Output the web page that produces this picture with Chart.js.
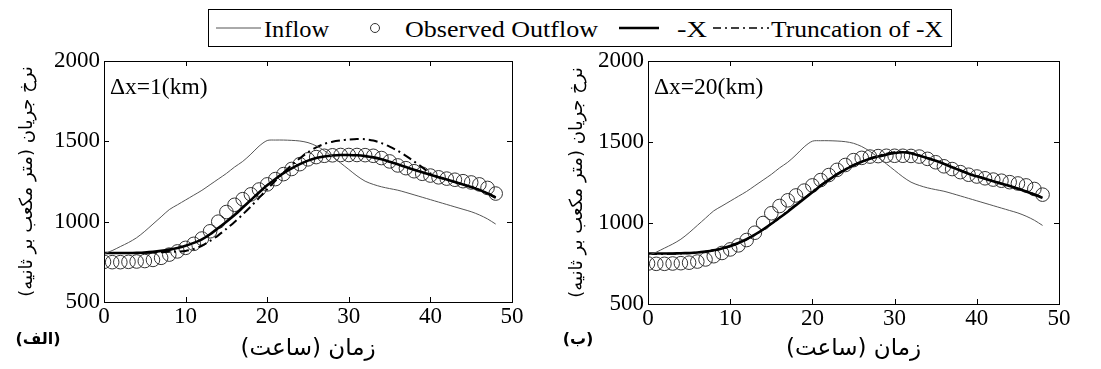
<!DOCTYPE html>
<html>
<head>
<meta charset="utf-8">
<script src="https://cdn.jsdelivr.net/npm/chart.js@4.4.1/dist/chart.umd.min.js"></script>
<style>
  body { margin: 0; background: #fff; }
  #wrap { position: relative; width: 1101px; height: 369px; overflow: hidden; }
  #left { position: absolute; left: 0; top: 0; }
  #right { position: absolute; left: 550px; top: 0; }
  #legend { position: absolute; left: 208px; top: 9px; }
  #legend text { font-family: "Liberation Serif", "Times New Roman", serif; font-size: 24px; fill: #000; }
</style>
</head>
<body>
<div id="wrap">
  <canvas id="left" width="550" height="369"></canvas>
  <canvas id="right" width="551" height="369"></canvas>
  <svg id="legend" width="745" height="39">
    <rect x="0.5" y="0.5" width="743" height="37" fill="#fff" stroke="#000" stroke-width="1"/>
    <line x1="8" y1="19" x2="53" y2="19" stroke="#555" stroke-width="1"/>
    <text x="56" y="28" textLength="65" lengthAdjust="spacingAndGlyphs">Inflow</text>
    <circle cx="167" cy="19" r="4.5" fill="none" stroke="#333" stroke-width="1"/>
    <text x="197" y="28" textLength="193" lengthAdjust="spacingAndGlyphs">Observed Outflow</text>
    <line x1="411" y1="19" x2="451" y2="19" stroke="#000" stroke-width="2.5"/>
    <text x="469" y="28" textLength="30" lengthAdjust="spacingAndGlyphs">-X</text>
    <line x1="505" y1="19" x2="561" y2="19" stroke="#000" stroke-width="1.5" stroke-dasharray="8,4,2,4"/>
    <text x="563" y="28" textLength="172" lengthAdjust="spacingAndGlyphs">Truncation of -X</text>
  </svg>
</div>
<script>
let hours = [0,1,2,3,4,5,6,7,8,9,10,11,12,13,14,15,16,17,18,19,20,21,22,23,24,
  25,26,27,28,29,30,31,32,33,34,35,36,37,38,39,40,41,42,43,44,45,46,47,48];

let inflow = [800,820,845,870,900,940,985,1030,1075,1105,1135,1165,1195,1230,1265,1300,1340,1375,1420,1470,
  1505,1508,1508,1506,1502,1492,1472,1442,1405,1365,1325,1285,1252,1232,1217,1206,1196,1182,1167,1152,
  1137,1122,1107,1092,1077,1062,1042,1017,985];

let observed = [750,748,748,750,752,755,762,775,795,815,837,862,895,940,1000,1060,1105,1140,1170,1200,
  1232,1265,1296,1328,1358,1388,1402,1410,1413,1415,1415,1415,1414,1410,1396,1375,1350,1333,1314,1298,
  1287,1276,1268,1261,1252,1244,1232,1210,1175];

// dx = 1 km
let minusX1 = [805,805,805,805,806,808,812,818,826,836,850,868,890,922,960,1000,1042,1088,1135,1182,
  1226,1266,1302,1332,1358,1380,1396,1406,1412,1415,1415,1413,1408,1400,1388,1373,1357,1340,1323,1307,
  1292,1277,1262,1247,1232,1216,1198,1176,1150];
let trunc1 = [805,805,805,805,805,806,808,810,812,814,818,830,850,880,915,955,998,1045,1095,1148,
  1202,1255,1305,1352,1395,1432,1462,1484,1498,1506,1511,1514,1513,1505,1489,1467,1441,1410,1375,1338,
  1300,1277,1262,1247,1232,1216,1198,1176,1150];

// dx = 20 km
let minusX20 = [812,812,812,812,813,815,818,824,832,843,858,877,900,928,960,995,1032,1070,1110,1150,
  1190,1230,1266,1300,1330,1356,1378,1396,1410,1422,1432,1437,1430,1416,1400,1384,1365,1344,1324,1304,
  1288,1273,1258,1243,1228,1212,1195,1176,1155];
let trunc20 = [808,808,809,810,812,814,818,823,831,842,856,875,898,927,960,996,1034,1073,1113,1153,
  1193,1232,1268,1302,1332,1358,1380,1399,1414,1427,1437,1440,1432,1417,1401,1385,1366,1346,1326,1306,
  1290,1274,1259,1244,1229,1213,1196,1177,1157];

let xTicks = [0, 10, 20, 30, 40, 50];
let yTicks = [500, 1000, 1500, 2000];

const serif = "'Liberation Serif', 'Times New Roman', serif";

function pts(vals) {
  return vals.map((v, i) => ({ x: hours[i], y: v }));
}

// frame + inward tick marks like matlab
const boxPlugin = {
  id: "box",
  afterDraw(chart, args, opts) {
    let ctx = chart.ctx;
    let a = chart.chartArea;
    let xs = chart.scales.x;
    let ys = chart.scales.y;
    ctx.save();
    ctx.strokeStyle = "#000";
    ctx.lineWidth = 1;
    ctx.strokeRect(a.left + 0.5, a.top + 0.5, a.right - a.left, a.bottom - a.top);
    ctx.beginPath();
    xTicks.forEach((t) => {
      let px = Math.round(xs.getPixelForValue(t)) + 0.5;
      ctx.moveTo(px, a.bottom); ctx.lineTo(px, a.bottom - 5);
      ctx.moveTo(px, a.top); ctx.lineTo(px, a.top + 5);
    });
    yTicks.forEach((t) => {
      let py = Math.round(ys.getPixelForValue(t)) + 0.5;
      ctx.moveTo(a.left, py); ctx.lineTo(a.left + 5, py);
      ctx.moveTo(a.right, py); ctx.lineTo(a.right - 5, py);
    });
    ctx.stroke();

    // dx note inside the plot
    ctx.fillStyle = "#000";
    ctx.textBaseline = "middle";
    ctx.textAlign = "left";
    ctx.font = "23.5px " + serif;
    ctx.fillText(opts.note, a.left + 6, a.top + 27);

    // panel letter
    ctx.font = "bold 16px 'DejaVu Sans'";
    ctx.textAlign = "center";
    ctx.fillText(opts.letter, opts.letterX, 340);
    ctx.restore();
  },
};

function makeChart(id, xData, trData, cfg) {
  let tickFont = { family: serif, size: 23 };
  return new Chart(document.getElementById(id), {
    type: "line",
    data: {
      datasets: [
        { data: pts(inflow), borderColor: "#555", borderWidth: 1, pointRadius: 0, tension: 0.3 },
        { data: pts(xData), borderColor: "#000", borderWidth: 2.6, pointRadius: 0, tension: 0.3 },
        { data: pts(trData), borderColor: "#000", borderWidth: 2, borderDash: [9, 4, 2, 4], pointRadius: 0, tension: 0.3 },
        { data: pts(observed), showLine: false, pointStyle: "circle", pointRadius: 6.8,
          borderColor: "#333", borderWidth: 1, backgroundColor: "rgba(0,0,0,0)" },
      ],
    },
    options: {
      responsive: false,
      animation: false,
      layout: { padding: { left: 0, top: 61, right: cfg.padRight, bottom: 0 } },
      plugins: {
        legend: { display: false },
        tooltip: { enabled: false },
        box: { note: cfg.note, letter: cfg.letter, letterX: cfg.letterX },
      },
      scales: {
        x: {
          type: "linear", min: 0, max: 50,
          afterBuildTicks: (s) => { s.ticks = xTicks.map((v) => ({ value: v })); },
          afterFit: (s) => { s.height = cfg.xHeight; },
          ticks: { font: tickFont, color: "#000", padding: 1, maxRotation: 0, autoSkip: false,
            callback: (v) => String(v) },
          grid: { display: false, drawTicks: false },
          border: { display: false },
          title: { display: true, text: "زمان (ساعت)", color: "#000",
            font: { family: "DejaVu Sans", size: 23 }, padding: { top: 0, bottom: 6 } },
        },
        y: {
          min: 500, max: 2000,
          afterBuildTicks: (s) => { s.ticks = yTicks.map((v) => ({ value: v })); },
          afterFit: (s) => { s.width = cfg.yWidth; },
          ticks: { font: tickFont, color: "#000", padding: 4, callback: (v) => String(v) },
          grid: { display: false, drawTicks: false },
          border: { display: false },
          title: { display: true, text: "نرخ جریان (متر مکعب بر ثانیه)", color: "#000",
            font: { family: "DejaVu Sans", size: 18 }, padding: { top: 17, bottom: 0 } },
        },
      },
    },
    plugins: [boxPlugin],
  });
}

function drawAll() {
  makeChart("left", minusX1, trunc1,
    { note: "Δx=1(km)", letter: "(الف)", letterX: 38, padRight: 38, xHeight: 67, yWidth: 104 });
  makeChart("right", minusX20, trunc20,
    { note: "Δx=20(km)", letter: "(ب)", letterX: 28, padRight: 42, xHeight: 65, yWidth: 98 });
}

Promise.all([
  document.fonts.load("22px 'Liberation Serif'"),
  document.fonts.load("18px 'DejaVu Sans'"),
]).then(drawAll, drawAll);
</script>
</body>
</html>
